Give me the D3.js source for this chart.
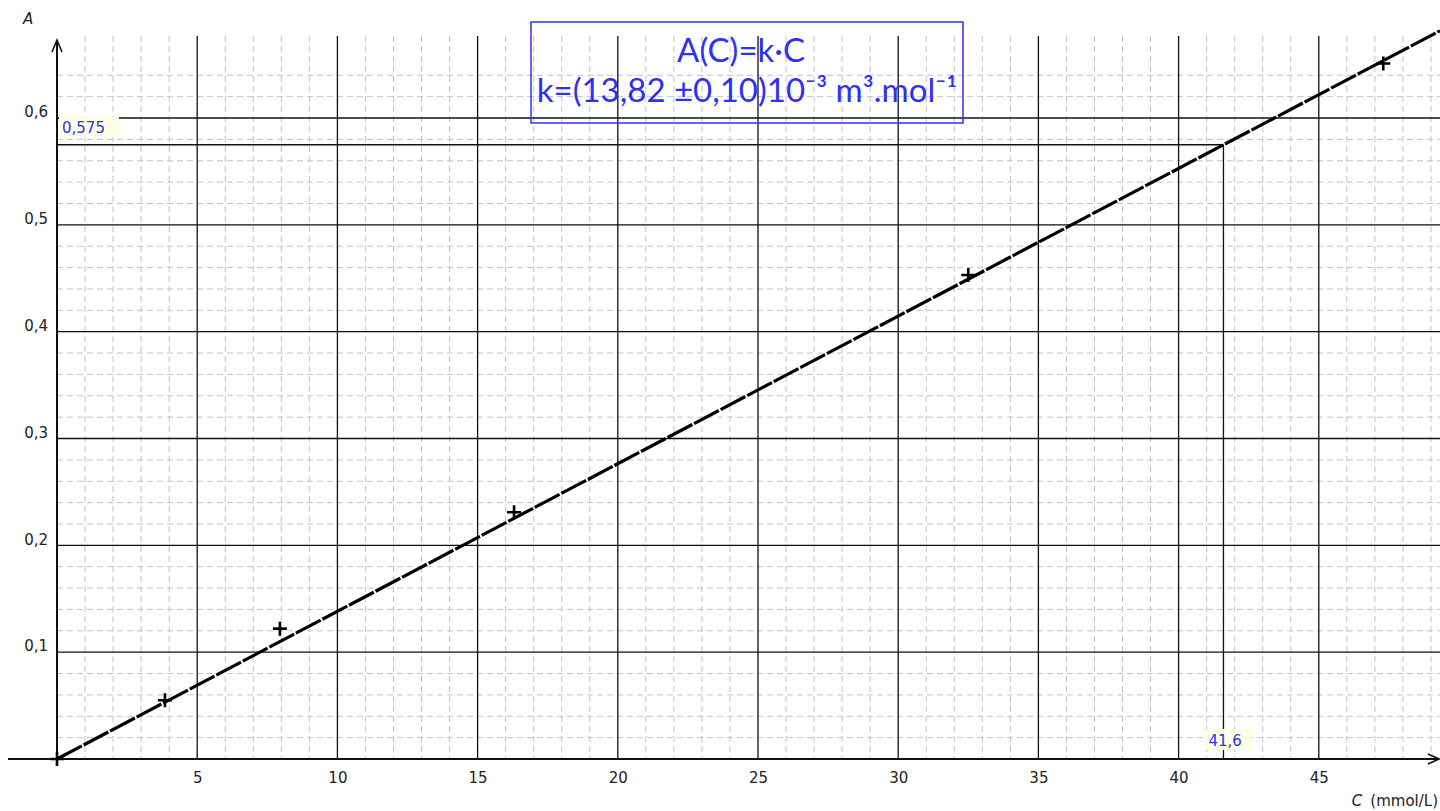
<!DOCTYPE html>
<html lang="fr">
<head>
  <meta charset="UTF-8" />
  <title>A(C) = k·C</title>
  <script src="https://d3js.org/d3.v7.min.js"></script>
  <style>
    html, body { margin: 0; padding: 0; background: #fff; }
    svg { display: block; }
    .tick-label { font-family: "DejaVu Sans", sans-serif; font-size: 15px; fill: #222; }
    .minor { stroke: #c4c4c4; stroke-width: 1; stroke-dasharray: 6 4; }
    .major { stroke: #111; stroke-width: 1.3; }
    .formula { font-family: Lato, "Open Sans", sans-serif; fill: #3030f4; }
    .note { font-family: "DejaVu Sans", sans-serif; font-size: 15px; fill: #3030f0; }
  </style>
</head>
<body>
  <div id="chart"></div>
  <script>
    // measured points (C in mmol/L, A)
    const concentrations = [0, 3.85, 7.95, 16.3, 32.5, 47.3];
    const absorbances = [0, 0.055, 0.122, 0.231, 0.453, 0.651];
    const slope = 0.01382;           // k
    const xTicks = [5, 10, 15, 20, 25, 30, 35, 40, 45];
    const yTicks = [0.1, 0.2, 0.3, 0.4, 0.5, 0.6];
    const readA = 0.575;
    const readC = 41.6;

    const width = 1440, height = 811;
    const x0 = 57, y0 = 759, yTop = 36;

    const x = d3.scaleLinear().domain([0, 1]).range([x0, x0 + 28.04]);
    const y = d3.scaleLinear().domain([0, 0.1]).range([y0, y0 - 106.83]);
    const xMax = x.invert(width);

    const fr = d3.formatLocale({ decimal: ",", thousands: " ", grouping: [3], currency: ["", ""] });
    const fmt1 = fr.format(".1f");

    const svg = d3.select("#chart").append("svg")
      .attr("width", width).attr("height", height);

    // minor grid
    const minorX = d3.range(1, Math.floor(xMax) + 1).filter(v => v % 5 !== 0);
    const minorY = d3.range(1, 33).map(i => i * 0.02).filter((v, i) => (i + 1) % 5 !== 0);

    svg.append("g").selectAll("line").data(minorX).join("line")
      .attr("class", "minor")
      .attr("x1", d => x(d)).attr("x2", d => x(d))
      .attr("y1", yTop).attr("y2", y0);
    svg.append("g").selectAll("line").data(minorY).join("line")
      .attr("class", "minor")
      .attr("x1", x0).attr("x2", width)
      .attr("y1", d => y(d)).attr("y2", d => y(d));

    // major grid
    svg.append("g").selectAll("line").data(xTicks).join("line")
      .attr("class", "major")
      .attr("x1", d => x(d)).attr("x2", d => x(d))
      .attr("y1", yTop).attr("y2", y0);
    svg.append("g").selectAll("line").data(yTicks).join("line")
      .attr("class", "major")
      .attr("x1", x0).attr("x2", width)
      .attr("y1", d => y(d)).attr("y2", d => y(d));

    // reading lines
    svg.append("line").attr("class", "major")
      .attr("x1", x0).attr("x2", x(readC))
      .attr("y1", y(readA)).attr("y2", y(readA));
    svg.append("line").attr("class", "major")
      .attr("x1", x(readC)).attr("x2", x(readC))
      .attr("y1", y(readA)).attr("y2", y0);

    // axes
    svg.append("line").attr("x1", 8).attr("x2", width - 2)
      .attr("y1", y0).attr("y2", y0)
      .attr("stroke", "#111").attr("stroke-width", 2);
    svg.append("line").attr("x1", x0).attr("x2", x0)
      .attr("y1", y0).attr("y2", 42)
      .attr("stroke", "#111").attr("stroke-width", 2);
    svg.append("path")
      .attr("d", `M${x0 - 5},${52} L${x0},${40} L${x0 + 5},${52}`)
      .attr("fill", "none").attr("stroke", "#111").attr("stroke-width", 1.6);
    svg.append("path")
      .attr("d", `M${width - 12},${y0 - 5} L${width - 1},${y0} L${width - 12},${y0 + 5}`)
      .attr("fill", "none").attr("stroke", "#111").attr("stroke-width", 1.6);

    // tick labels through axes
    svg.append("g")
      .attr("transform", `translate(0,${y0 + 10})`)
      .call(d3.axisBottom(x).tickValues(xTicks).tickSize(0).tickFormat(d3.format("d")))
      .call(g => g.select(".domain").remove())
      .selectAll("text").attr("class", "tick-label");
    svg.append("g")
      .attr("transform", `translate(${x0 - 6},-6)`)
      .call(d3.axisLeft(y).tickValues(yTicks).tickSize(0).tickFormat(fmt1))
      .call(g => g.select(".domain").remove())
      .selectAll("text").attr("class", "tick-label");

    // axis titles
    svg.append("text").attr("x", 23).attr("y", 24)
      .attr("class", "tick-label").attr("font-style", "italic").text("A");
    const xt = svg.append("text").attr("x", 1438).attr("y", 806)
      .attr("class", "tick-label").attr("text-anchor", "end");
    xt.append("tspan").attr("font-style", "italic").text("C");
    xt.append("tspan").attr("dx", 8).text("(mmol/L)");

    // fitted line
    svg.append("line")
      .attr("x1", x(0)).attr("y1", y(0))
      .attr("x2", x(xMax)).attr("y2", y(slope * xMax))
      .attr("stroke", "#000").attr("stroke-width", 3.2)
      .attr("stroke-dasharray", "28 2");

    // crosses
    const pts = concentrations.map((c, i) => ({ c, a: absorbances[i] }));
    svg.append("g").selectAll("path").data(pts).join("path")
      .attr("d", d => {
        const px = x(d.c), py = y(d.a);
        return `M${px - 7},${py} H${px + 7} M${px},${py - 7} V${py + 7}`;
      })
      .attr("stroke", "#000").attr("stroke-width", 2.6);

    // reading notes
    function note(tx, ty, w, h, label) {
      svg.append("rect").attr("x", tx).attr("y", ty).attr("width", w).attr("height", h)
        .attr("fill", "#ffffe3");
      svg.append("text").attr("class", "note")
        .attr("x", tx + 3).attr("y", ty + h - 4).text(label);
    }
    note(x0 + 2, y(0.6) - 1, 60, 20, fr.format(".3f")(readA));
    note(x(readC) - 18, y0 - 30, 46, 21, fmt1(readC));

    // formula box
    svg.append("rect").attr("x", 531).attr("y", 22).attr("width", 432).attr("height", 101)
      .attr("fill", "none").attr("stroke", "#3030f4").attr("stroke-width", 1.5);
    svg.append("text").attr("class", "formula")
      .attr("x", 741).attr("y", 62).attr("text-anchor", "middle")
      .attr("font-size", 33).text("A(C)=k·C");
    svg.append("text").attr("class", "formula")
      .attr("x", 747).attr("y", 102).attr("text-anchor", "middle")
      .attr("font-size", 33).text("k=(13,82 ±0,10)10⁻³ m³.mol⁻¹");
  </script>
</body>
</html>
